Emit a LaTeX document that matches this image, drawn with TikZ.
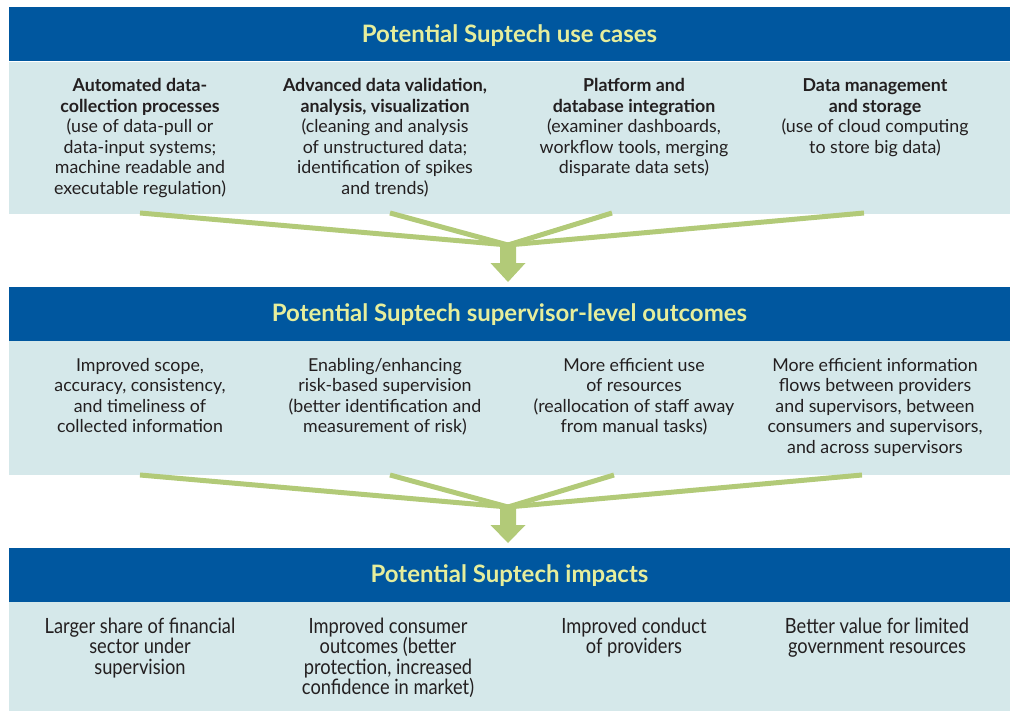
\documentclass[tikz,border=0pt]{standalone}
\usepackage{fontspec}
\setmainfont{Lato}
\newfontfamily\condfont[FakeStretch=0.87]{Lato}
\usetikzlibrary{calc}
\definecolor{hdrblue}{HTML}{00579F}
\definecolor{hdrtext}{HTML}{E6EE9C}
\definecolor{panelc}{HTML}{D5E8EA}
\definecolor{flowc}{HTML}{B2CA78}
\definecolor{bodyc}{HTML}{231F20}
\tikzset{
  hdr/.style={fill=hdrblue, text=hdrtext, minimum width=1001pt, minimum height=54pt, inner sep=0pt,
    text height=18pt, text depth=2pt, font=\fontsize{24}{28}\selectfont\bfseries},
  panelbox/.style={fill=panelc, minimum width=1001pt, inner sep=0pt, anchor=north},
  body/.style={text=bodyc, align=center, anchor=north, inner sep=0pt, font=\fontsize{17.8}{20.5}\selectfont},
  condbody/.style={text=bodyc, align=center, anchor=north, inner sep=0pt, font=\condfont\fontsize{21}{20.5}\selectfont},
  feed/.style={draw=flowc, line width=5pt},
  bigarrow/.style={fill=flowc}
}
\begin{document}
\begin{tikzpicture}[x=1pt,y=-1pt]
\useasboundingbox (0,0) rectangle (1020,722);
% ---- band 1
\node[hdr] (h1) at (509.5,34.5) {Potential Suptech use cases};
\node[panelbox, minimum height=152pt] (p1) at (h1.south) {};
% ---- band 2
\node[hdr] (h2) at (509.5,313.5) {Potential Suptech supervisor-level outcomes};
\node[panelbox, minimum height=134pt] (p2) at (h2.south) {};
% ---- band 3
\node[hdr] (h3) at (509.5,574.5) {Potential Suptech impacts};
\node[panelbox, minimum height=109pt] (p3) at (h3.south) {};

% ---- connectors 1 -> 2
\coordinate (c1) at (508,245);
\coordinate (t1) at (508,282);
\coordinate (s1a) at (140,213);
\coordinate (s1b) at (390,213);
\coordinate (s1c) at (612,213);
\coordinate (s1d) at (864,213);
\foreach \s in {s1a,s1b,s1c,s1d} \draw[feed] (\s) -- (c1);
\fill[bigarrow] ($(c1)+(-8,0)$) -- ($(c1)+(8,0)$) -- ($(c1)+(8,18)$) -- ($(c1)+(17.5,18)$)
  -- (t1) -- ($(c1)+(-17.5,18)$) -- ($(c1)+(-8,18)$) -- cycle;

% ---- connectors 2 -> 3
\coordinate (c2) at (508,507);
\coordinate (t2) at (508,543);
\coordinate (s2a) at (140,475);
\coordinate (s2b) at (390,475);
\coordinate (s2c) at (614,475);
\coordinate (s2d) at (862,475);
\foreach \s in {s2a,s2b,s2c,s2d} \draw[feed] (\s) -- (c2);
\fill[bigarrow] ($(c2)+(-8,0)$) -- ($(c2)+(8,0)$) -- ($(c2)+(8,18)$) -- ($(c2)+(17.5,18)$)
  -- (t2) -- ($(c2)+(-17.5,18)$) -- ($(c2)+(-8,18)$) -- cycle;

% ---- panel 1 texts
\node[body] (u1) at (140,78.5) {\textbf{Automated data-}\\\textbf{collection processes}\\(use of data-pull or\\data-input systems;\\machine readable and\\executable regulation)};
\node[body] (u2) at (385,78.5) {\textbf{Advanced data validation,}\\\textbf{analysis, visualization}\\(cleaning and analysis\\of unstructured data;\\identification of spikes\\and trends)};
\node[body] (u3) at (634,78.5) {\textbf{Platform and}\\\textbf{database integration}\\(examiner dashboards,\\workflow tools, merging\\disparate data sets)};
\node[body] (u4) at (875,78.5) {\textbf{Data management}\\\textbf{and storage}\\(use of cloud computing\\to store big data)};

% ---- panel 2 texts
\node[body] (o1) at (140,358) {Improved scope,\\accuracy, consistency,\\and timeliness of\\collected information};
\node[body] (o2) at (385,358) {Enabling/enhancing\\risk-based supervision\\(better identification and\\measurement of risk)};
\node[body] (o3) at (634,358) {More efficient use\\of resources\\(reallocation of staff away\\from manual tasks)};
\node[body] (o4) at (875,358) {More efficient information\\flows between providers\\and supervisors, between\\consumers and supervisors,\\and across supervisors};

% ---- panel 3 texts
\node[condbody] (i1) at (140,617.5) {Larger share of financial\\sector under\\supervision};
\node[condbody] (i2) at (388,617.5) {Improved consumer\\outcomes (better\\protection, increased\\confidence in market)};
\node[condbody] (i3) at (634,617.5) {Improved conduct\\of providers};
\node[condbody] (i4) at (877,617.5) {Better value for limited\\government resources};
\end{tikzpicture}
\end{document}
